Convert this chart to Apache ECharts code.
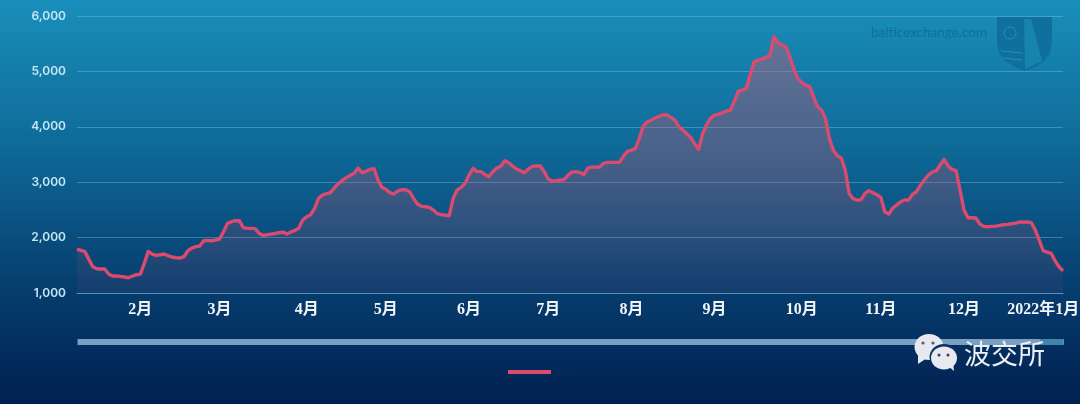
<!DOCTYPE html>
<html>
<head>
<meta charset="utf-8">
<style>html,body{margin:0;padding:0;background:#023}#c{width:1080px;height:404px}</style>
<script src="https://cdn.jsdelivr.net/npm/echarts@6/dist/echarts.min.js"></script>
</head>
<body>
<div id="c"></div>
<script>
const seriesName = 'BDI';
const monthLabels = ['', '2月', '3月', '4月', '5月', '6月', '7月', '8月', '9月', '10月', '11月', '12月', '2022年1月'];
const monthLengths = [16, 20, 22, 20, 21, 20, 21, 21, 22, 20, 21, 20, 6];
const yTicks = { min: 1000, max: 6000, step: 1000 };
const bdi = [
1793,1770,1745,1607,1475,1438,1432,1432,1342,1306,1306,1300,1288,1276,1306,1330,
1342,1535,1751,1703,1679,1691,1703,1673,1649,1637,1631,1655,1763,1811,1836,1848,1944,1950,1944,1956,
1974,2106,2257,2287,2305,2305,2179,2167,2167,2161,2076,2040,2052,2064,2076,2088,2100,2064,2100,2130,2167,2317,
2377,2413,2528,2708,2769,2793,2811,2901,2973,3034,3082,3124,3160,3256,3172,3196,3232,3244,3040,2907,
2871,2811,2787,2841,2865,2865,2829,2708,2606,2563,2557,2545,2497,2431,2413,2407,2395,2708,2858,2906,2979,
3129,3250,3190,3190,3141,3099,3190,3256,3286,3388,3352,3292,3238,3208,3171,3238,3286,3292,3292,3190,
3057,3021,3027,3039,3045,3129,3183,3190,3177,3141,3255,3273,3273,3273,3340,3358,3358,3358,3358,3472,3556,
3580,3605,3791,4014,4086,4116,4158,4188,4218,4212,4170,4122,4002,3942,3875,3803,3689,3592,3881,4032,4158,
4212,4225,4255,4285,4302,4464,4645,4663,4693,4934,5175,5199,5223,5253,5295,5626,5518,5476,5446,5265,5054,4874,
4802,4753,4729,4543,4362,4302,4151,3790,3579,3477,3437,3220,2798,2702,2678,2684,2798,2847,2810,2774,
2726,2467,2425,2534,2588,2648,2678,2678,2780,2828,2949,3039,3129,3184,3208,3310,3412,3292,3232,3208,2859,
2497,2359,2359,2353,2245,2202,2196,2202,2208,2220,2232,2238,2250,2262,2281,2281,2281,2269,2136,1956,
1763,1739,1715,1582,1474,1400
];

const categories = [];
monthLengths.forEach((n, m) => {
  for (let d = 0; d < n; d++) categories.push(d === 0 && monthLabels[m] ? monthLabels[m] : 'm' + m + 'd' + d);
});

const lineColor = '#db4a6f';
const chart = echarts.init(document.getElementById('c'), null, { renderer: 'canvas', width: 1080, height: 404 });
const bubble = (cx, cy, rx, ry, fill) => ({ type: 'ellipse', shape: { cx, cy, rx, ry }, style: { fill }, z: 30 });
chart.setOption({
  animation: false,
  backgroundColor: new echarts.graphic.LinearGradient(0, 0, 0, 1, [
    { offset: 0, color: '#1a8fbb' },
    { offset: 0.35, color: '#0f6b99' },
    { offset: 0.7, color: '#063f70' },
    { offset: 1, color: '#012050' }
  ]),
  grid: { left: 77, right: 17, top: 16, bottom: 111, containLabel: false, outerBoundsMode: 'none' },
  legend: {
    left: 503, top: 362, itemWidth: 43, itemHeight: 4, icon: 'rect', itemGap: 6,
    data: [seriesName],
    textStyle: { color: '#0a2f5e', fontSize: 10, fontFamily: 'Lato' }
  },
  xAxis: {
    type: 'category', data: categories, boundaryGap: false,
    axisLine: { show: true, lineStyle: { color: '#5b93b8', width: 1 } },
    axisTick: { show: false },
    splitLine: { show: false },
    axisLabel: {
      color: '#f2f5f8', fontSize: 16, fontWeight: 'bold', margin: 9,
      fontFamily: '"Liberation Serif","Noto Sans CJK SC"',
      hideOverlap: false,
      interval: (i, v) => monthLabels.includes(v),
      formatter: v => monthLabels.includes(v) ? v : ''
    }
  },
  yAxis: {
    type: 'value', min: yTicks.min, max: yTicks.max, interval: yTicks.step,
    axisLine: { show: false }, axisTick: { show: false },
    splitLine: { lineStyle: { color: 'rgba(125,195,228,0.42)', width: 1 } },
    axisLabel: {
      color: '#c4e6f4', fontSize: 12, fontWeight: 600, fontFamily: 'Inter', margin: 11,
      formatter: v => v.toLocaleString('en-US')
    }
  },
  dataZoom: [{
    type: 'slider', xAxisIndex: 0, start: 0, end: 100,
    left: 77, right: 17, top: 339, height: 6,
    showDetail: false, showDataShadow: false, brushSelect: false,
    borderColor: 'transparent', borderRadius: 3,
    backgroundColor: '#3b82a8', fillerColor: '#7a9fc4',
    handleSize: 0, moveHandleSize: 0,
    handleStyle: { opacity: 0 }
  }],
  series: [{
    name: seriesName, type: 'line', data: bdi, showSymbol: false, symbol: 'none',
    lineStyle: { color: lineColor, width: 3.4, join: 'round' },
    itemStyle: { color: lineColor },
    areaStyle: {
      origin: 'start',
      color: new echarts.graphic.LinearGradient(0, 0, 0, 1, [
        { offset: 0, color: 'rgba(215,85,110,0.58)' },
        { offset: 0.55, color: 'rgba(210,80,105,0.38)' },
        { offset: 1, color: 'rgba(190,80,115,0.1)' }
      ])
    }
  }],
  graphic: [
    { type: 'text', x: 871, y: 26, z: 5, silent: true,
      style: { text: 'balticexchange.com', fill: '#0e6f9c', fontSize: 13.5, fontFamily: 'Lato' } },
    { type: 'rect', x: 0, y: 0, z: 20, silent: true,
      shape: { x: 1040, y: 339, width: 23, height: 6 }, style: { fill: '#3f86aa' } },
    { type: 'group', x: 997, y: 17, z: 5, silent: true, children: [
      { type: 'polygon', shape: { points: [[0, 0], [55, 0], [55, 26], [53, 36], [47, 44], [38, 50], [28, 54], [18, 50], [8, 44], [2, 36], [0, 26]] },
        style: { fill: '#0f6f9d' } },
      { type: 'polygon', shape: { points: [[27, 2], [34, 2], [45, 44], [28, 52]] }, style: { fill: '#1684ad' } },
      { type: 'line', shape: { x1: 4, y1: 34, x2: 25, y2: 36 }, style: { stroke: '#2c8fb5', lineWidth: 1 } },
      { type: 'line', shape: { x1: 6, y1: 41, x2: 25, y2: 43 }, style: { stroke: '#2c8fb5', lineWidth: 1 } },
      { type: 'circle', shape: { cx: 13, cy: 16, r: 6 }, style: { fill: 'none', stroke: '#2c8fb5', lineWidth: 1 } }
    ] },
    { type: 'group', x: 0, y: 0, silent: true, z: 30, children: [
      bubble(929, 347, 14.5, 13, '#e6eaf0'),
      { type: 'polygon', shape: { points: [[918, 355], [918, 364], [927, 358]] }, style: { fill: '#e6eaf0' }, z: 30 },
      bubble(944, 357, 14.5, 13, '#0a2f5e'),
      bubble(944, 358, 13, 11.5, '#e6eaf0'),
      { type: 'polygon', shape: { points: [[948, 366], [954, 371], [953, 362]] }, style: { fill: '#e6eaf0' }, z: 30 },
      { type: 'circle', shape: { cx: 923, cy: 343, r: 1.6 }, style: { fill: '#555c66' }, z: 31 },
      { type: 'circle', shape: { cx: 933, cy: 343, r: 1.6 }, style: { fill: '#555c66' }, z: 31 },
      { type: 'circle', shape: { cx: 939, cy: 355, r: 1.5 }, style: { fill: '#3b4048' }, z: 31 },
      { type: 'circle', shape: { cx: 948, cy: 355, r: 1.5 }, style: { fill: '#3b4048' }, z: 31 },
      { type: 'text', x: 964, y: 340, style: { text: '波交所', fill: '#eef1f5', fontSize: 27, fontFamily: '"Noto Sans CJK SC"', fontWeight: 400 }, z: 31 }
    ] }
  ]
});
</script>
</body>
</html>
